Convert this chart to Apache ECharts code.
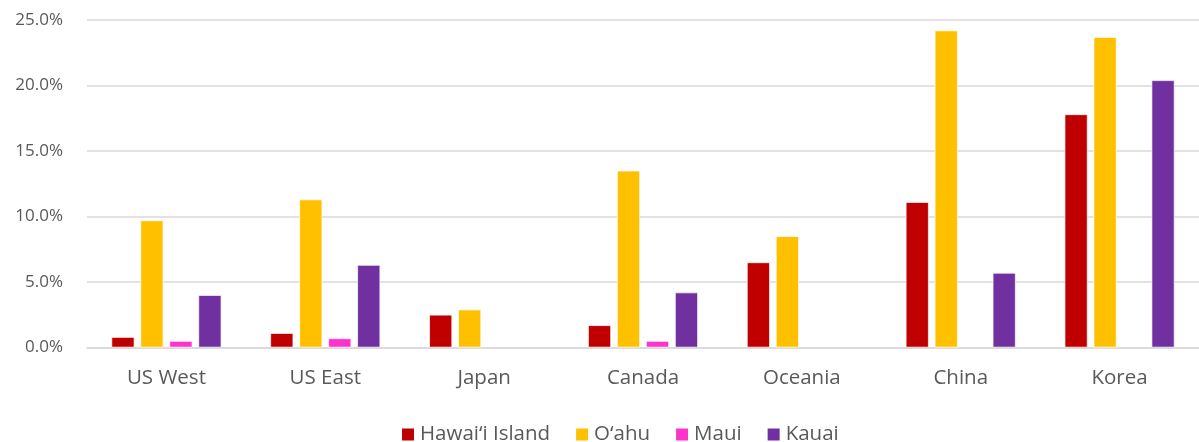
<!DOCTYPE html>
<html>
<head>
<meta charset="utf-8">
<script src="https://cdn.jsdelivr.net/npm/echarts@6/dist/echarts.min.js"></script>
<style>html,body{margin:0;padding:0;background:#fff;}#c{width:1199px;height:442px;}</style>
</head>
<body>
<div id="c"></div>
<script>
const categories = ["US West", "US East", "Japan", "Canada", "Oceania", "China", "Korea"];
const seriesNames = ["Hawai‘i Island", "O‘ahu", "Maui", "Kauai"];
const hawaiiIsland = [0.8, 1.1, 2.5, 1.7, 6.5, 11.1, 17.8];
const oahu = [9.7, 11.3, 2.9, 13.5, 8.5, 24.2, 23.7];
const maui = [0.5, 0.7, null, 0.5, null, null, null];
const kauai = [4.0, 6.3, null, 4.2, null, 5.7, 20.4];
const colors = ["#C00000", "#FFC000", "#FF33CC", "#7030A0"];

const chart = echarts.init(document.getElementById('c'), null, {renderer: 'canvas'});
const font = "'Open Sans', sans-serif";
const mk = (name, data, i) => ({
  name: name, type: 'bar', data: data,
  barWidth: 23, barGap: '26%',
  itemStyle: {color: colors[i], borderColor: '#ffffff', borderWidth: 0.7},
  emphasis: {disabled: true}
});
chart.setOption({
  animation: false,
  textStyle: {fontFamily: font},
  grid: {left: 87, width: 1120, top: 20, bottom: 94.5, containLabel: false},
  legend: {
    left: 395, top: 419, itemWidth: 14, itemHeight: 14, itemGap: 24,
    icon: 'rect',
    textStyle: {fontFamily: font, fontSize: 20.5, color: '#595959', padding: [0, 0, 0, 0]},
    data: seriesNames
  },
  xAxis: {
    type: 'category', data: categories,
    axisLine: {show: true, lineStyle: {color: '#D9D9D9', width: 1.5}},
    axisTick: {show: false},
    axisLabel: {fontFamily: font, fontSize: 20.5, color: '#595959', margin: 20}
  },
  yAxis: {
    type: 'value', min: 0, max: 25, interval: 5,
    axisLine: {show: false}, axisTick: {show: false},
    splitLine: {lineStyle: {color: '#D9D9D9', width: 1.5}},
    axisLabel: {fontFamily: font, fontSize: 17, color: '#595959', margin: 24,
      formatter: v => v.toFixed(1) + '%'}
  },
  series: [
    mk(seriesNames[0], hawaiiIsland, 0),
    mk(seriesNames[1], oahu, 1),
    mk(seriesNames[2], maui, 2),
    mk(seriesNames[3], kauai, 3)
  ]
});
</script>
</body>
</html>
